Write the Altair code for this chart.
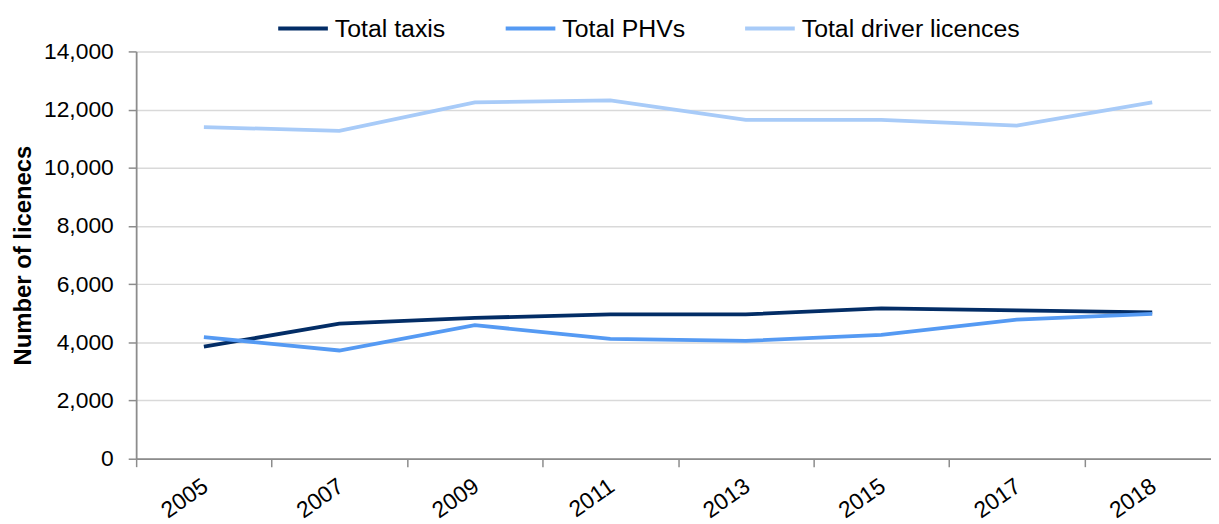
import altair as alt
import pandas as pd

years = ["2005", "2007", "2009", "2011", "2013", "2015", "2017", "2018"]
total_taxis = [3850, 4640, 4840, 4960, 4960, 5170, 5100, 5030]
total_phvs = [4180, 3720, 4590, 4120, 4050, 4260, 4780, 4980]
total_drivers = [11400, 11270, 12250, 12320, 11650, 11650, 11450, 12250]

series_names = ["Total taxis", "Total PHVs", "Total driver licences"]
series_colors = ["#032d66", "#559af3", "#a8cbf8"]

rows = []
for name, vals in zip(series_names, [total_taxis, total_phvs, total_drivers]):
    for y, v in zip(years, vals):
        rows.append({"year": y, "value": v, "series": name})
df = pd.DataFrame(rows)

FONT = "Liberation Sans"

chart = alt.Chart(df).mark_line(strokeWidth=3.8).encode(
    x=alt.X("year:O", sort=years,
            scale=alt.Scale(domain=years, range=[0, 1091], paddingInner=0, paddingOuter=0),
            axis=alt.Axis(title=None, labelAngle=325, labelAlign="right", labelBaseline="top",
                          tickBand="extent", grid=False, domainColor="#8c8c8c", domainWidth=1.8,
                          tickColor="#8c8c8c", tickWidth=1.5, tickSize=8, labelPadding=8,
                          labelOffset=-5,
                          labelFont=FONT, labelFontSize=23, labelColor="#000000")),
    y=alt.Y("value:Q", scale=alt.Scale(domain=[0, 14000], nice=False),
            axis=alt.Axis(title="Number of licenecs", values=list(range(0, 14001, 2000)), format=",d",
                          grid=True, gridColor="#d9d9d9", gridWidth=1.5,
                          domainColor="#8c8c8c", domainWidth=1.8, tickColor="#8c8c8c", tickWidth=1.5,
                          tickSize=8, labelPadding=15, labelFont=FONT, labelFontSize=23,
                          labelColor="#000000", titleFont=FONT, titleFontSize=24, titleFontWeight="bold",
                          titleColor="#000000", titleX=-106, titleY=205, titleAngle=270,
                          titleBaseline="alphabetic", titleAlign="center")),
    color=alt.Color("series:N", sort=series_names,
                    scale=alt.Scale(domain=series_names, range=series_colors),
                    legend=alt.Legend(title=None, orient="none", direction="horizontal",
                                      legendX=141, legendY=-50, symbolType="stroke", symbolSize=2500,
                                      symbolStrokeWidth=4, labelFont=FONT, labelFontSize=25,
                                      labelColor="#000000", labelOffset=5, columnPadding=52,
                                      labelLimit=500, padding=0)),
).properties(
    width=1082, height=410,
    autosize=alt.AutoSizeParams(type="none"),
    padding={"left": 129, "top": 42, "right": 0, "bottom": 64},
).configure_view(stroke=None)

chart.save("out.html", embed_options={"renderer": "svg", "actions": False})
